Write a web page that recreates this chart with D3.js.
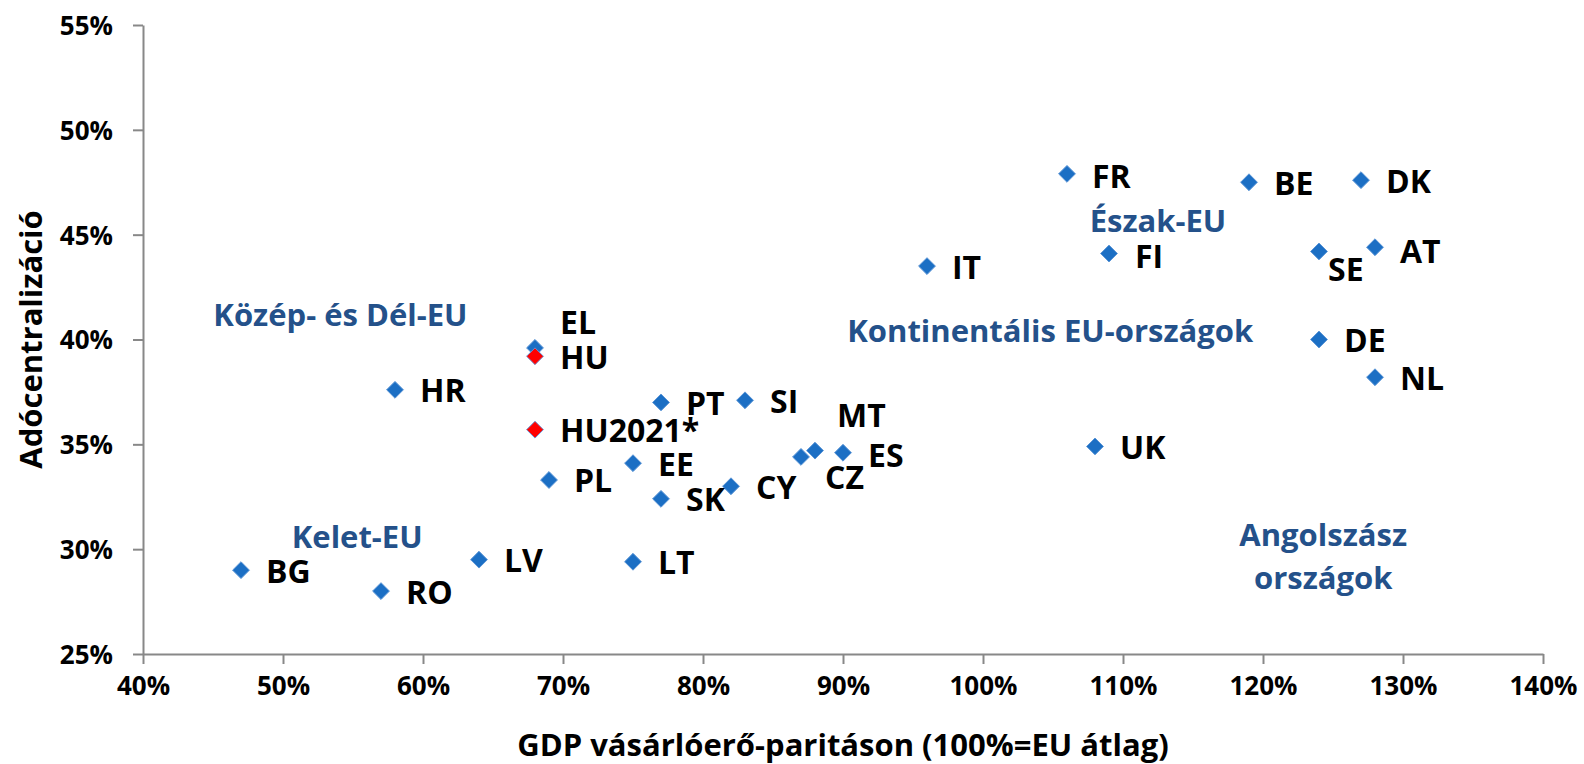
<!DOCTYPE html>
<html>
<head>
<meta charset="utf-8">
<script src="https://cdn.jsdelivr.net/npm/d3@7"></script>
<style>
  body { margin: 0; background: #fff; }
  svg text { font-family: "Open Sans", "Noto Sans", sans-serif; font-weight: 700; }
</style>
</head>
<body>
<div id="chart"></div>
<script>
// Data
const countries = ['BG', 'RO', 'LV', 'HR', 'LT', 'EL', 'PL', 'EE', 'PT', 'SK', 'CY', 'SI', 'CZ', 'MT', 'ES', 'IT', 'FR', 'FI', 'UK', 'BE', 'SE', 'DE', 'DK', 'AT', 'NL'];
const gdpPpp = [47, 57, 64, 58, 75, 68, 69, 75, 77, 77, 82, 83, 87, 88, 90, 96, 106, 109, 108, 119, 124, 124, 127, 128, 128];
const taxRatio = [29.0, 28.0, 29.5, 37.6, 29.4, 39.6, 33.3, 34.1, 37.0, 32.4, 33.0, 37.1, 34.4, 34.7, 34.6, 43.5, 47.9, 44.1, 34.9, 47.5, 44.2, 40.0, 47.6, 44.4, 38.2];

const huNames = ['HU', 'HU2021*'];
const huGdp = [68, 68];
const huTax = [39.2, 35.7];

const xTicks = [40, 50, 60, 70, 80, 90, 100, 110, 120, 130, 140];
const yTicks = [25, 30, 35, 40, 45, 50, 55];

const groupNames = ['Közép- és Dél-EU', 'Kelet-EU', 'Észak-EU', 'Kontinentális EU-országok', 'Angolszász', 'országok'];
const groupX = [54.1, 55.3, 112.5, 104.8, 124.3, 124.3];
const groupY = [41.2, 30.6, 45.65, 40.4, 30.7, 28.65];

// label nudges (px) so labels sit like in the original
const nudge = {
    EL: [25, -25], MT: [22, -35], CZ: [24, 21], SE: [9, 18], AT: [25, 4],
    FI: [26, 3], FR: [25, 3], ES: [25, 3]
};

const width = 1584, height = 764;
const margin = { top: 25, right: 41, bottom: 110, left: 143 };
const innerW = width - margin.left - margin.right;
const innerH = height - margin.top - margin.bottom;

const svg = d3.select('#chart').append('svg')
    .attr('width', width)
    .attr('height', height);
const g = svg.append('g').attr('transform', `translate(${margin.left},${margin.top})`);

const x = d3.scaleLinear().domain([40, 140]).range([0, innerW]);
const y = d3.scaleLinear().domain([25, 55]).range([innerH, 0]);

const axisColor = '#888888';

// Axes
const xAxis = g.append('g')
    .attr('transform', `translate(0,${innerH})`)
    .call(d3.axisBottom(x).tickValues(xTicks).tickSize(10).tickSizeOuter(0).tickPadding(13).tickFormat(d => d + '%'));
const yAxis = g.append('g')
    .call(d3.axisLeft(y).tickValues(yTicks).tickSize(10).tickSizeOuter(0).tickPadding(20).tickFormat(d => d + '%'));

[xAxis, yAxis].forEach(a => {
    a.select('.domain').attr('stroke', axisColor).attr('stroke-width', 2);
    a.selectAll('.tick line').attr('stroke', axisColor).attr('stroke-width', 2);
    a.selectAll('.tick text').attr('fill', '#000').style('font-size', '26px');
});
xAxis.selectAll('.tick text').attr('dy', '0.71em');
yAxis.selectAll('.tick text').attr('dy', '0.36em');

// Axis titles
svg.append('text')
    .attr('x', margin.left + innerW / 2)
    .attr('y', 756)
    .attr('text-anchor', 'middle')
    .style('font-size', '31px')
    .text('GDP vásárlóerő-paritáson (100%=EU átlag)');
svg.append('text')
    .attr('transform', `translate(42,${margin.top + innerH / 2}) rotate(-90)`)
    .attr('text-anchor', 'middle')
    .style('font-size', '31px')
    .text('Adócentralizáció');

// Group annotations
g.selectAll('.group-label')
    .data(groupNames)
    .join('text')
    .attr('class', 'group-label')
    .attr('x', (d, i) => x(groupX[i]))
    .attr('y', (d, i) => y(groupY[i]))
    .attr('dy', '0.36em')
    .attr('text-anchor', 'middle')
    .attr('fill', '#24518a')
    .style('font-size', '31px')
    .text(d => d);

const diamond = d3.symbol().type(d3.symbolDiamond2).size(2 * 9.5 * 9.5);

const points = countries.map((c, i) => ({ name: c, gx: gdpPpp[i], ty: taxRatio[i], hu: false }))
    .concat(huNames.map((c, i) => ({ name: c, gx: huGdp[i], ty: huTax[i], hu: true })));

// Markers
g.selectAll('.pt')
    .data(points)
    .join('path')
    .attr('class', 'pt')
    .attr('d', diamond)
    .attr('transform', d => `translate(${x(d.gx)},${y(d.ty)})`)
    .attr('fill', d => d.hu ? '#ff0000' : '#1c6fc4')
    .attr('stroke', d => d.hu ? '#6f93cf' : '#5b95d6')
    .attr('stroke-width', 1);

// Country labels
const labelSize = 32;
const capHalf = labelSize * 0.714 / 2;
g.selectAll('.lbl')
    .data(points)
    .join('text')
    .attr('class', 'lbl')
    .attr('x', d => x(d.gx) + (nudge[d.name] ? nudge[d.name][0] : 25))
    .attr('y', d => y(d.ty) + (nudge[d.name] ? nudge[d.name][1] : 1) + capHalf)
    .attr('fill', '#000')
    .style('font-size', labelSize + 'px')
    .text(d => d.name);
</script>
</body>
</html>
